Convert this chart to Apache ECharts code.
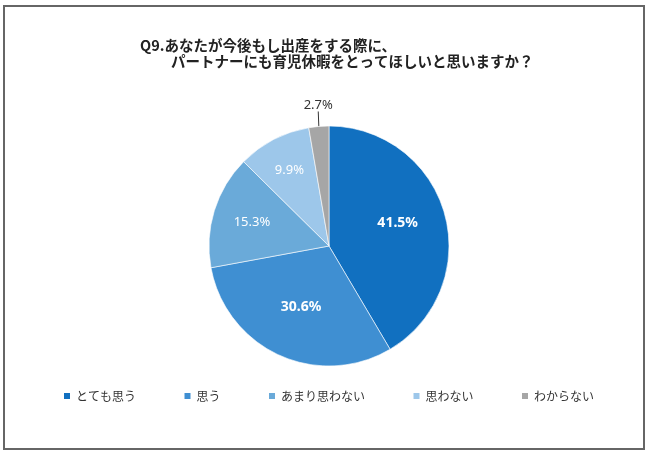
<!DOCTYPE html>
<html><head><meta charset="utf-8">
<script src="https://cdn.jsdelivr.net/npm/echarts@6/dist/echarts.min.js"></script>
<style>html,body{margin:0;padding:0;background:#fff}#c{width:650px;height:457px}</style>
</head><body><div id="c"></div>
<script>
const categories = ['とても思う', '思う', 'あまり思わない', '思わない', 'わからない'];
const values = [41.5, 30.6, 15.3, 9.9, 2.7];
const colors = ['#1170C0', '#3F8FD2', '#6AAAD9', '#9DC7EA', '#A6A6A6'];
const titleLines = ['Q9.あなたが今後もし出産をする際に、', 'パートナーにも育児休暇をとってほしいと思いますか？'];

const CX = 329, CY = 246, R = 120;
const labelRadiusScale = [1.13, 1.07, 1.28, 1.36];
const chart = echarts.init(document.getElementById('c'));
const jp = '"Noto Sans CJK JP", "Noto Sans", sans-serif';

const data = categories.map((name, i) => {
  const item = { name, value: values[i], itemStyle: { color: colors[i] } };
  if (i === 4) {
    item.label = { position: 'outside', color: '#333', fontWeight: 'normal', fontSize: 13 };
    item.labelLine = { show: true, length: 7, length2: 0, lineStyle: { color: '#333', width: 1 } };
  } else if (i >= 2) {
    item.label = { fontWeight: 'normal', fontSize: 13 };
  }
  return item;
});

chart.setOption({
  animation: false,
  graphic: [{
    type: 'rect', shape: { x: 4, y: 6, width: 640, height: 443 },
    style: { fill: 'none', stroke: '#666', lineWidth: 2 }, z: 10
  }],
  title: [
    { text: titleLines[0], left: 135, top: 33, textStyle: { fontFamily: jp, fontSize: 14.5, fontWeight: 'bold', color: '#222' } },
    { text: titleLines[1], left: 166, top: 49, textStyle: { fontFamily: jp, fontSize: 14.5, fontWeight: 'bold', color: '#222' } }
  ],
  legend: {
    left: 57, top: 385, itemWidth: 8, itemHeight: 8, itemGap: 46.5, icon: 'rect',
    data: categories,
    textStyle: { fontFamily: jp, fontSize: 12, color: '#333' }
  },
  series: [{
    type: 'pie', center: [CX, CY], radius: [0, R], startAngle: 90, clockwise: true,
    data,
    itemStyle: { borderColor: '#fff', borderWidth: 0.6 },
    label: {
      show: true, position: 'inside', formatter: p => p.value.toFixed(1) + '%',
      color: '#fff', fontFamily: '"Noto Sans", sans-serif', fontSize: 14, fontWeight: 'bold'
    },
    labelLine: { show: false },
    labelLayout: function (p) {
      if (p.dataIndex === 4) {
        const pts = p.labelLinePoints;
        const end = pts[pts.length - 1];
        return { x: end[0], y: end[1] - 8, align: 'center', verticalAlign: 'bottom' };
      }
      const lx = p.labelRect.x + p.labelRect.width / 2;
      const ly = p.labelRect.y + p.labelRect.height / 2;
      const k = labelRadiusScale[p.dataIndex];
      return { x: CX + (lx - CX) * k, y: CY + (ly - CY) * k - (p.dataIndex === 0 ? 4 : 0) };
    }
  }]
});
</script></body></html>
